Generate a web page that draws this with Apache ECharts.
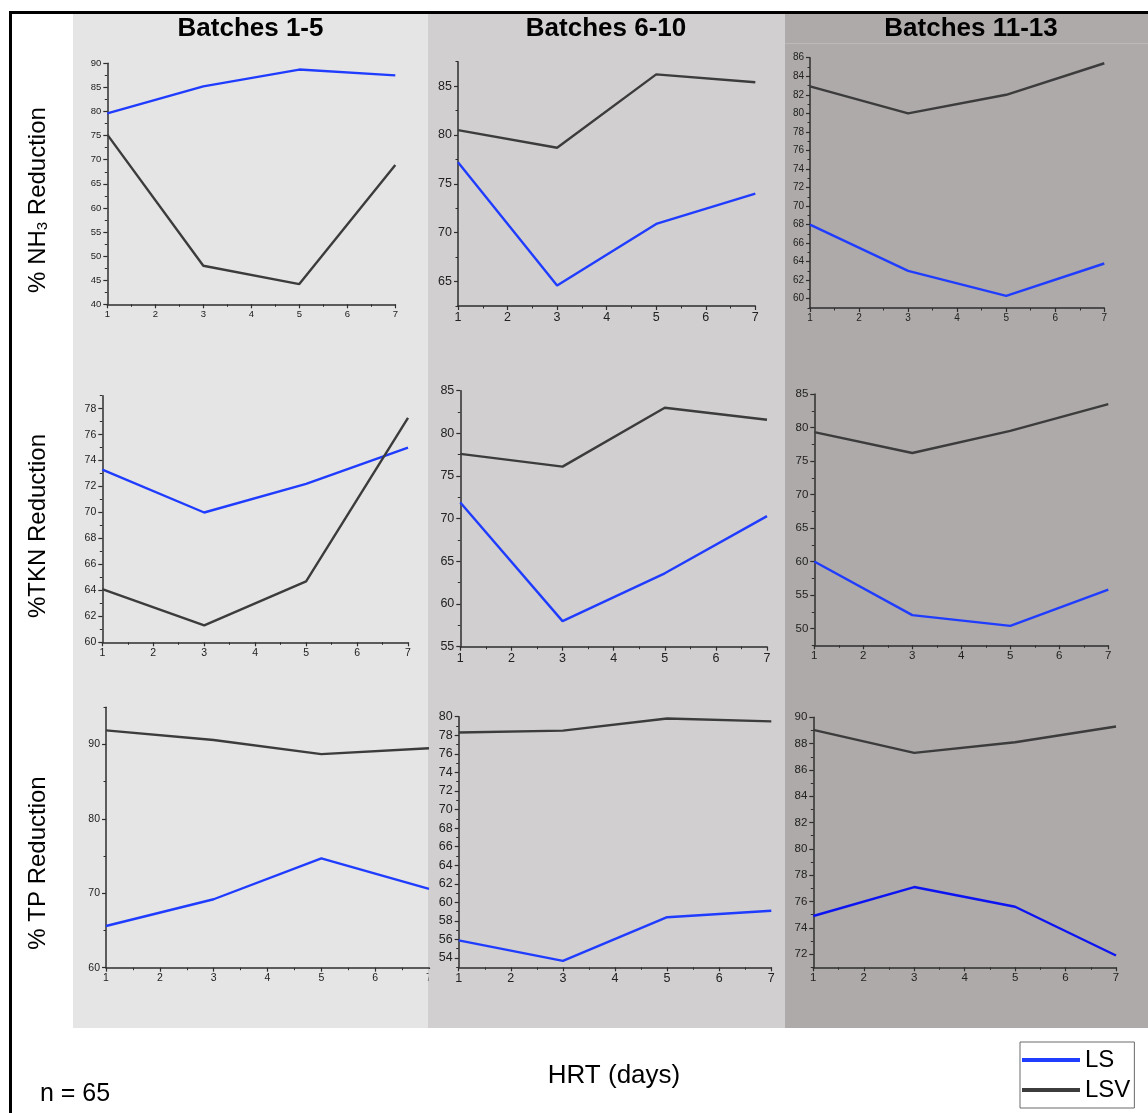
<!DOCTYPE html>
<html>
<head>
<meta charset="utf-8">
<script src="https://cdn.jsdelivr.net/npm/echarts@6/dist/echarts.min.js"></script>
<style>
  html, body { margin: 0; padding: 0; background: #ffffff; }
  #chart { width: 1148px; height: 1113px; }
</style>
</head>
<body>
<div id="chart"></div>
<script>
// ---------------- DATA ----------------
const HRT = [1, 3, 5, 7];
const HRT_TICKS = [1, 2, 3, 4, 5, 6, 7];

const COLUMN_TITLES = ['Batches 1-5', 'Batches 6-10', 'Batches 11-13'];
const ROW_TITLES = ['NH3', 'TKN', 'TP'];

const NH3_B1_LS  = [79.6, 85.2, 88.7, 87.5];
const NH3_B1_LSV = [75.2, 48.0, 44.2, 68.9];
const NH3_B6_LS  = [77.2, 64.6, 70.9, 74.0];
const NH3_B6_LSV = [80.5, 78.7, 86.2, 85.4];
const NH3_B11_LS  = [68.0, 63.0, 60.3, 63.8];
const NH3_B11_LSV = [82.9, 80.0, 82.0, 85.4];

const TKN_B1_LS  = [73.3, 70.0, 72.2, 75.0];
const TKN_B1_LSV = [64.1, 61.3, 64.7, 77.3];
const TKN_B6_LS  = [71.9, 58.0, 63.6, 70.3];
const TKN_B6_LSV = [77.6, 76.1, 83.0, 81.6];
const TKN_B11_LS  = [60.0, 52.0, 50.4, 55.8];
const TKN_B11_LSV = [79.3, 76.2, 79.5, 83.5];

const TP_B1_LS  = [65.6, 69.2, 74.7, 70.6];
const TP_B1_LSV = [91.9, 90.6, 88.7, 89.5];
const TP_B6_LS  = [55.9, 53.7, 58.4, 59.1];
const TP_B6_LSV = [78.3, 78.5, 79.8, 79.5];
const TP_B11_LS  = [74.9, 77.1, 75.6, 71.9];
const TP_B11_LSV = [89.05, 87.3, 88.1, 89.3];

// y tick labels of each panel
const NH3_B1_TICKS  = [40, 45, 50, 55, 60, 65, 70, 75, 80, 85, 90];
const NH3_B6_TICKS  = [65, 70, 75, 80, 85];
const NH3_B11_TICKS = [60, 62, 64, 66, 68, 70, 72, 74, 76, 78, 80, 82, 84, 86];
const TKN_B1_TICKS  = [60, 62, 64, 66, 68, 70, 72, 74, 76, 78];
const TKN_B6_TICKS  = [55, 60, 65, 70, 75, 80, 85];
const TKN_B11_TICKS = [50, 55, 60, 65, 70, 75, 80, 85];
const TP_B1_TICKS   = [60, 70, 80, 90];
const TP_B6_TICKS   = [54, 56, 58, 60, 62, 64, 66, 68, 70, 72, 74, 76, 78, 80];
const TP_B11_TICKS  = [72, 74, 76, 78, 80, 82, 84, 86, 88, 90];

// y axis extents
const NH3_B1_RANGE  = [40, 90];
const NH3_B6_RANGE  = [62.5, 87.5];
const NH3_B11_RANGE = [59, 86];
const TKN_B1_RANGE  = [60, 79];
const TKN_B6_RANGE  = [55, 85];
const TKN_B11_RANGE = [47.5, 85];
const TP_B1_RANGE   = [60, 95];
const TP_B6_RANGE   = [53, 80];
const TP_B11_RANGE  = [71, 90];

// ---------------- LAYOUT / STYLE ----------------
const FONT = 'Liberation Sans, Arial, Helvetica, sans-serif';
const LS_COLOR = '#1f3cff';
const LSV_COLOR = '#3c3c3c';
const AXIS_COLOR = '#2e2e2e';
const LABEL_COLOR = '#222222';

// panel geometry: [left, top, right, bottom], label font size, minor step
const panels = [
  { box: [107.3, 63.3, 395.3, 304.3], fs: 9.5, minor: 2.5, ticks: NH3_B1_TICKS, range: NH3_B1_RANGE, ls: NH3_B1_LS, lsv: NH3_B1_LSV, lsColor: LS_COLOR },
  { box: [458.0, 61.7, 755.3, 306.0], fs: 12.5, minor: 2.5, ticks: NH3_B6_TICKS, range: NH3_B6_RANGE, ls: NH3_B6_LS, lsv: NH3_B6_LSV, lsColor: LS_COLOR },
  { box: [810.0, 57.7, 1104.3, 308.0], fs: 10, minor: 1, ticks: NH3_B11_TICKS, range: NH3_B11_RANGE, ls: NH3_B11_LS, lsv: NH3_B11_LSV, lsColor: LS_COLOR },
  { box: [102.3, 395.7, 408.0, 642.3], fs: 10.5, minor: 1, ticks: TKN_B1_TICKS, range: TKN_B1_RANGE, ls: TKN_B1_LS, lsv: TKN_B1_LSV, lsColor: LS_COLOR },
  { box: [460.3, 390.7, 767.0, 646.7], fs: 12.5, minor: 2.5, ticks: TKN_B6_TICKS, range: TKN_B6_RANGE, ls: TKN_B6_LS, lsv: TKN_B6_LSV, lsColor: LS_COLOR },
  { box: [814.3, 394.0, 1108.3, 645.3], fs: 11.5, minor: 2.5, ticks: TKN_B11_TICKS, range: TKN_B11_RANGE, ls: TKN_B11_LS, lsv: TKN_B11_LSV, lsColor: LS_COLOR },
  { box: [106.0, 707.3, 429.0, 967.7], fs: 10.5, minor: 5, ticks: TP_B1_TICKS, range: TP_B1_RANGE, ls: TP_B1_LS, lsv: TP_B1_LSV, lsColor: LS_COLOR },
  { box: [458.7, 716.7, 771.3, 967.3], fs: 12.5, minor: 1, ticks: TP_B6_TICKS, range: TP_B6_RANGE, ls: TP_B6_LS, lsv: TP_B6_LSV, lsColor: LS_COLOR },
  { box: [813.3, 717.3, 1116.0, 967.3], fs: 11.5, minor: 1, ticks: TP_B11_TICKS, range: TP_B11_RANGE, ls: TP_B11_LS, lsv: TP_B11_LSV, lsColor: '#0c14f2' }
];

function minorValues(range, step) {
  const out = [];
  const start = Math.ceil(range[0] / step - 1e-9) * step;
  for (let v = start; v <= range[1] + 1e-9; v += step) out.push(+v.toFixed(4));
  return out;
}

const grids = [], xAxes = [], yAxes = [], series = [];
panels.forEach((p, i) => {
  const [l, t, r, b] = p.box;
  grids.push({ left: l, top: t, width: r - l, height: b - t, containLabel: false });
  xAxes.push({
    type: 'value', gridIndex: i, min: 1, max: 7, interval: 1,
    axisLine: { show: true, onZero: false, lineStyle: { color: AXIS_COLOR, width: 1.5 } },
    axisTick: { show: true, length: 4, lineStyle: { color: AXIS_COLOR, width: 1.2 } },
    minorTick: { show: true, splitNumber: 2, length: 2.5, lineStyle: { color: AXIS_COLOR, width: 1 } },
    axisLabel: { show: true, fontSize: p.fs, color: LABEL_COLOR, fontFamily: FONT, margin: 5, customValues: HRT_TICKS },
    splitLine: { show: false }
  });
  yAxes.push({
    type: 'value', gridIndex: i, min: p.range[0], max: p.range[1], position: 'left',
    axisLine: { show: true, onZero: false, lineStyle: { color: AXIS_COLOR, width: 1.5 } },
    axisTick: { show: true, length: 4, customValues: p.ticks, lineStyle: { color: AXIS_COLOR, width: 1.2 } },
    axisLabel: { show: true, fontSize: p.fs, color: LABEL_COLOR, fontFamily: FONT, margin: 6, customValues: p.ticks },
    splitLine: { show: false }
  });
  yAxes.push({
    type: 'value', gridIndex: i, min: p.range[0], max: p.range[1], position: 'left', offset: 0,
    axisLine: { show: false },
    axisTick: { show: true, length: 2.5, customValues: minorValues(p.range, p.minor), lineStyle: { color: AXIS_COLOR, width: 1 } },
    axisLabel: { show: false },
    splitLine: { show: false }
  });
  series.push({
    name: 'LS', type: 'line', xAxisIndex: i, yAxisIndex: 2 * i,
    data: HRT.map((x, k) => [x, p.ls[k]]),
    symbol: 'none', showSymbol: false, silent: true,
    lineStyle: { color: p.lsColor, width: 2.4 }, itemStyle: { color: i === 0 ? LS_COLOR : p.lsColor }, z: 3
  });
  series.push({
    name: 'LSV', type: 'line', xAxisIndex: i, yAxisIndex: 2 * i,
    data: HRT.map((x, k) => [x, p.lsv[k]]),
    symbol: 'none', showSymbol: false, silent: true,
    lineStyle: { color: LSV_COLOR, width: 2.4 }, itemStyle: { color: LSV_COLOR }, z: 3
  });
});

const graphics = [
  // column backgrounds
  { type: 'rect', shape: { x: 73, y: 14, width: 355, height: 1014 }, style: { fill: '#e5e5e5' }, z: -100, silent: true },
  { type: 'rect', shape: { x: 428, y: 14, width: 357, height: 1014 }, style: { fill: '#d1cfd0' }, z: -100, silent: true },
  { type: 'rect', shape: { x: 785, y: 14, width: 363, height: 1014 }, style: { fill: '#aeaaa9' }, z: -100, silent: true },
  { type: 'rect', shape: { x: 785, y: 43, width: 363, height: 1 }, style: { fill: '#bdb9b8' }, z: -99, silent: true },
  // frame
  { type: 'rect', shape: { x: 9, y: 11, width: 1139, height: 3 }, style: { fill: '#000000' }, z: 50, silent: true },
  { type: 'rect', shape: { x: 9, y: 11, width: 3, height: 1102 }, style: { fill: '#000000' }, z: 50, silent: true },
  // clip of first-column TP panel at the column edge
  { type: 'rect', shape: { x: 428.5, y: 969, width: 6, height: 16 }, style: { fill: '#d1cfd0' }, z: 60, silent: true },
  // column titles
  { type: 'text', x: 250.5, y: 29, style: { text: COLUMN_TITLES[0], font: 'bold 26px ' + FONT, fill: '#000', textAlign: 'center', textVerticalAlign: 'middle' }, z: 60 },
  { type: 'text', x: 606, y: 29, style: { text: COLUMN_TITLES[1], font: 'bold 26px ' + FONT, fill: '#000', textAlign: 'center', textVerticalAlign: 'middle' }, z: 60 },
  { type: 'text', x: 971, y: 29, style: { text: COLUMN_TITLES[2], font: 'bold 26px ' + FONT, fill: '#000', textAlign: 'center', textVerticalAlign: 'middle' }, z: 60 },
  // row titles (rotated)
  { type: 'text', x: 38, y: 200, rotation: Math.PI / 2, z: 60,
    style: { text: '% NH{sub|3} Reduction', fill: '#000', textAlign: 'center', textVerticalAlign: 'middle',
      font: '24px ' + FONT,
      rich: { sub: { fontSize: 15, fontFamily: FONT, verticalAlign: 'bottom', padding: [8, 0, 0, 0] } } } },
  { type: 'text', x: 38, y: 526, rotation: Math.PI / 2, z: 60,
    style: { text: '%TKN Reduction', fill: '#000', textAlign: 'center', textVerticalAlign: 'middle', font: '24px ' + FONT } },
  { type: 'text', x: 38, y: 863, rotation: Math.PI / 2, z: 60,
    style: { text: '% TP Reduction', fill: '#000', textAlign: 'center', textVerticalAlign: 'middle', font: '24px ' + FONT } },
  // bottom texts
  { type: 'text', x: 614, y: 1076, z: 60,
    style: { text: 'HRT (days)', fill: '#000', textAlign: 'center', textVerticalAlign: 'middle', font: '26px ' + FONT } },
  { type: 'text', x: 75, y: 1094, z: 60,
    style: { text: 'n = 65', fill: '#000', textAlign: 'center', textVerticalAlign: 'middle', font: '25px ' + FONT } }
];

const option = {
  animation: false,
  backgroundColor: '#ffffff',
  textStyle: { fontFamily: FONT },
  grid: grids,
  xAxis: xAxes,
  yAxis: yAxes,
  series: series,
  legend: {
    data: ['LS', 'LSV'],
    orient: 'vertical',
    left: 1020, top: 1042,
    icon: 'rect',
    itemWidth: 58, itemHeight: 4, itemGap: 4,
    padding: [5, 4, 5, 2],
    borderColor: '#6a6a6a', borderWidth: 1,
    backgroundColor: '#ffffff',
    selectedMode: false,
    textStyle: { fontSize: 24, color: '#000', fontFamily: FONT, lineHeight: 26 }
  },
  graphic: graphics
};

const chart = echarts.init(document.getElementById('chart'), null, { renderer: 'canvas' });
chart.setOption(option);
</script>
</body>
</html>
